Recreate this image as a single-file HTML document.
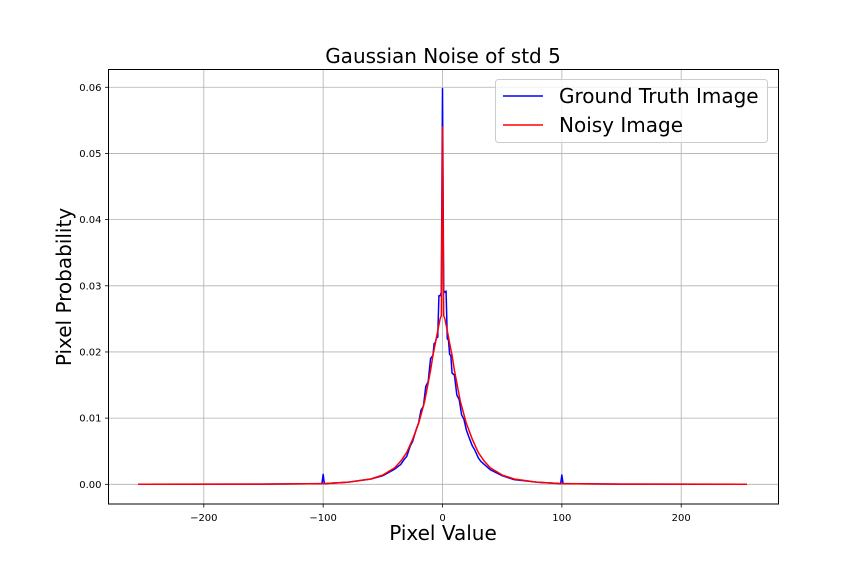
<!DOCTYPE html>
<html><head><meta charset="utf-8"><style>
body{margin:0;background:#fff}
svg{display:block;font-family:"DejaVu Sans","Liberation Sans",sans-serif}
</style></head><body>
<svg id="chart" width="864" height="576" viewBox="0 0 864 576">
<rect width="864" height="576" fill="#fff"/>
<g id="grid"></g><g id="ticks"></g><g id="series"></g>
<rect x="108.5" y="69.5" width="670" height="434.5" fill="none" stroke="#000" stroke-width="1"/>
<text x="443" y="63" font-size="20" text-anchor="middle">Gaussian Noise of std 5</text>
<text x="443" y="540" font-size="20" text-anchor="middle">Pixel Value</text>
<text transform="translate(71,287) rotate(-90)" font-size="20" text-anchor="middle">Pixel Probability</text>
<g>
<rect x="495.5" y="79.5" width="272" height="63" rx="3" fill="#fff" fill-opacity="0.8" stroke="#ccc"/>
<line x1="503" y1="96" x2="543" y2="96" stroke="#0000ff" stroke-width="1.5"/>
<text x="559" y="103" font-size="20">Ground Truth Image</text>
<line x1="503" y1="125" x2="543" y2="125" stroke="#ff0000" stroke-width="1.5"/>
<text x="559" y="132" font-size="20">Noisy Image</text>
</g>
</svg>
<script>
const xTicks=[-200,-100,0,100,200];
const yTicks=[0,0.01,0.02,0.03,0.04,0.05,0.06];
const yTickLabels=["0.00","0.01","0.02","0.03","0.04","0.05","0.06"];
const blueX=[-255,-150,-102,-101,-100,-99,-98,-80,-60,-50,-40,-35,-32,-30,-27,-25,-22,-20,-18,-16,-14,-12,-10,-8,-7,-6,-5,-4,-3,-2,-1,0,1,2,3,4,5,6,7,8,10,12,14,16,18,20,22,25,27,30,32,35,40,50,60,80,98,99,100,101,102,150,255];
const blueY=[0,0.00002,0.0001,0.0001,0.0015,0.0001,0.0001,0.0003,0.0008,0.0013,0.0023,0.003,0.0038,0.0042,0.0058,0.0065,0.0083,0.0093,0.0112,0.0118,0.0148,0.0155,0.019,0.0195,0.0213,0.0214,0.0222,0.0222,0.0285,0.0285,0.029,0.0598,0.0293,0.029,0.0292,0.022,0.0218,0.0196,0.0195,0.0168,0.0165,0.0135,0.0128,0.0105,0.0098,0.0082,0.0072,0.0058,0.0052,0.004,0.0035,0.003,0.0022,0.0013,0.0007,0.0003,0.0001,0.0001,0.0014,0.0001,0.0001,0.00002,0];
const redX=[-255,-150,-100,-80,-60,-50,-40,-35,-30,-25,-20,-15,-10,-8,-6,-4,-2,-1,0,1,2,4,6,8,10,15,20,25,30,35,40,50,60,80,100,150,255];
const redY=[0,0.00002,0.0001,0.0003,0.0008,0.0014,0.0025,0.0035,0.0048,0.0068,0.0092,0.0125,0.0172,0.0195,0.0213,0.0232,0.025,0.0255,0.054,0.0255,0.025,0.0232,0.0213,0.0195,0.0172,0.0125,0.0092,0.0068,0.0048,0.0035,0.0025,0.0014,0.0008,0.0003,0.0001,0.00002,0];
const NS="http://www.w3.org/2000/svg";
const X0=108.5,X1=778.5,Y0=69.5,Y1=504;
const xs=v=>442.5+v*1.1935;
const ys=v=>484.3-v*6617;
const grid=document.getElementById('grid'),ticks=document.getElementById('ticks'),series=document.getElementById('series');
function mk(tag,attrs,parent,txt){const e=document.createElementNS(NS,tag);for(const k in attrs)e.setAttribute(k,attrs[k]);if(txt!==undefined)e.textContent=txt;parent.appendChild(e);return e;}
xTicks.forEach(t=>{const x=xs(t);
const g=mk('line',{x1:x,x2:x,y1:Y0,y2:Y1,stroke:'#b0b0b0','stroke-width':0.8},grid);


mk('line',{x1:x,x2:x,y1:Y1,y2:Y1+3.5,stroke:'#000','stroke-width':0.8},ticks);
const l=mk('text',{x:x,y:Y1+17,'font-size':10,'text-anchor':'middle'},ticks,t===0?'0':(t<0?'\u2212':'')+Math.abs(t));


});
yTicks.forEach((t,i)=>{const y=ys(t);
const g=mk('line',{x1:X0,x2:X1,y1:y,y2:y,stroke:'#b0b0b0','stroke-width':0.8},grid);


mk('line',{x1:X0-3.5,x2:X0,y1:y,y2:y,stroke:'#000','stroke-width':0.8},ticks);
const l=mk('text',{x:X0-7,y:y+3.5,'font-size':10,'text-anchor':'end'},ticks,yTickLabels[i]);


});
function line(X,Y,color,name){
const d=X.map((v,i)=>(i?'L':'M')+xs(v).toFixed(2)+','+ys(Y[i]).toFixed(2)).join('');
const p=mk('path',{d:d,fill:'none',stroke:color,'stroke-width':1.5,'stroke-linejoin':'round'},series);


}
line(blueX,blueY,'#0000ff','ground-truth-line');
line(redX,redY,'#ff0000','noisy-line');
</script>
</body></html>
